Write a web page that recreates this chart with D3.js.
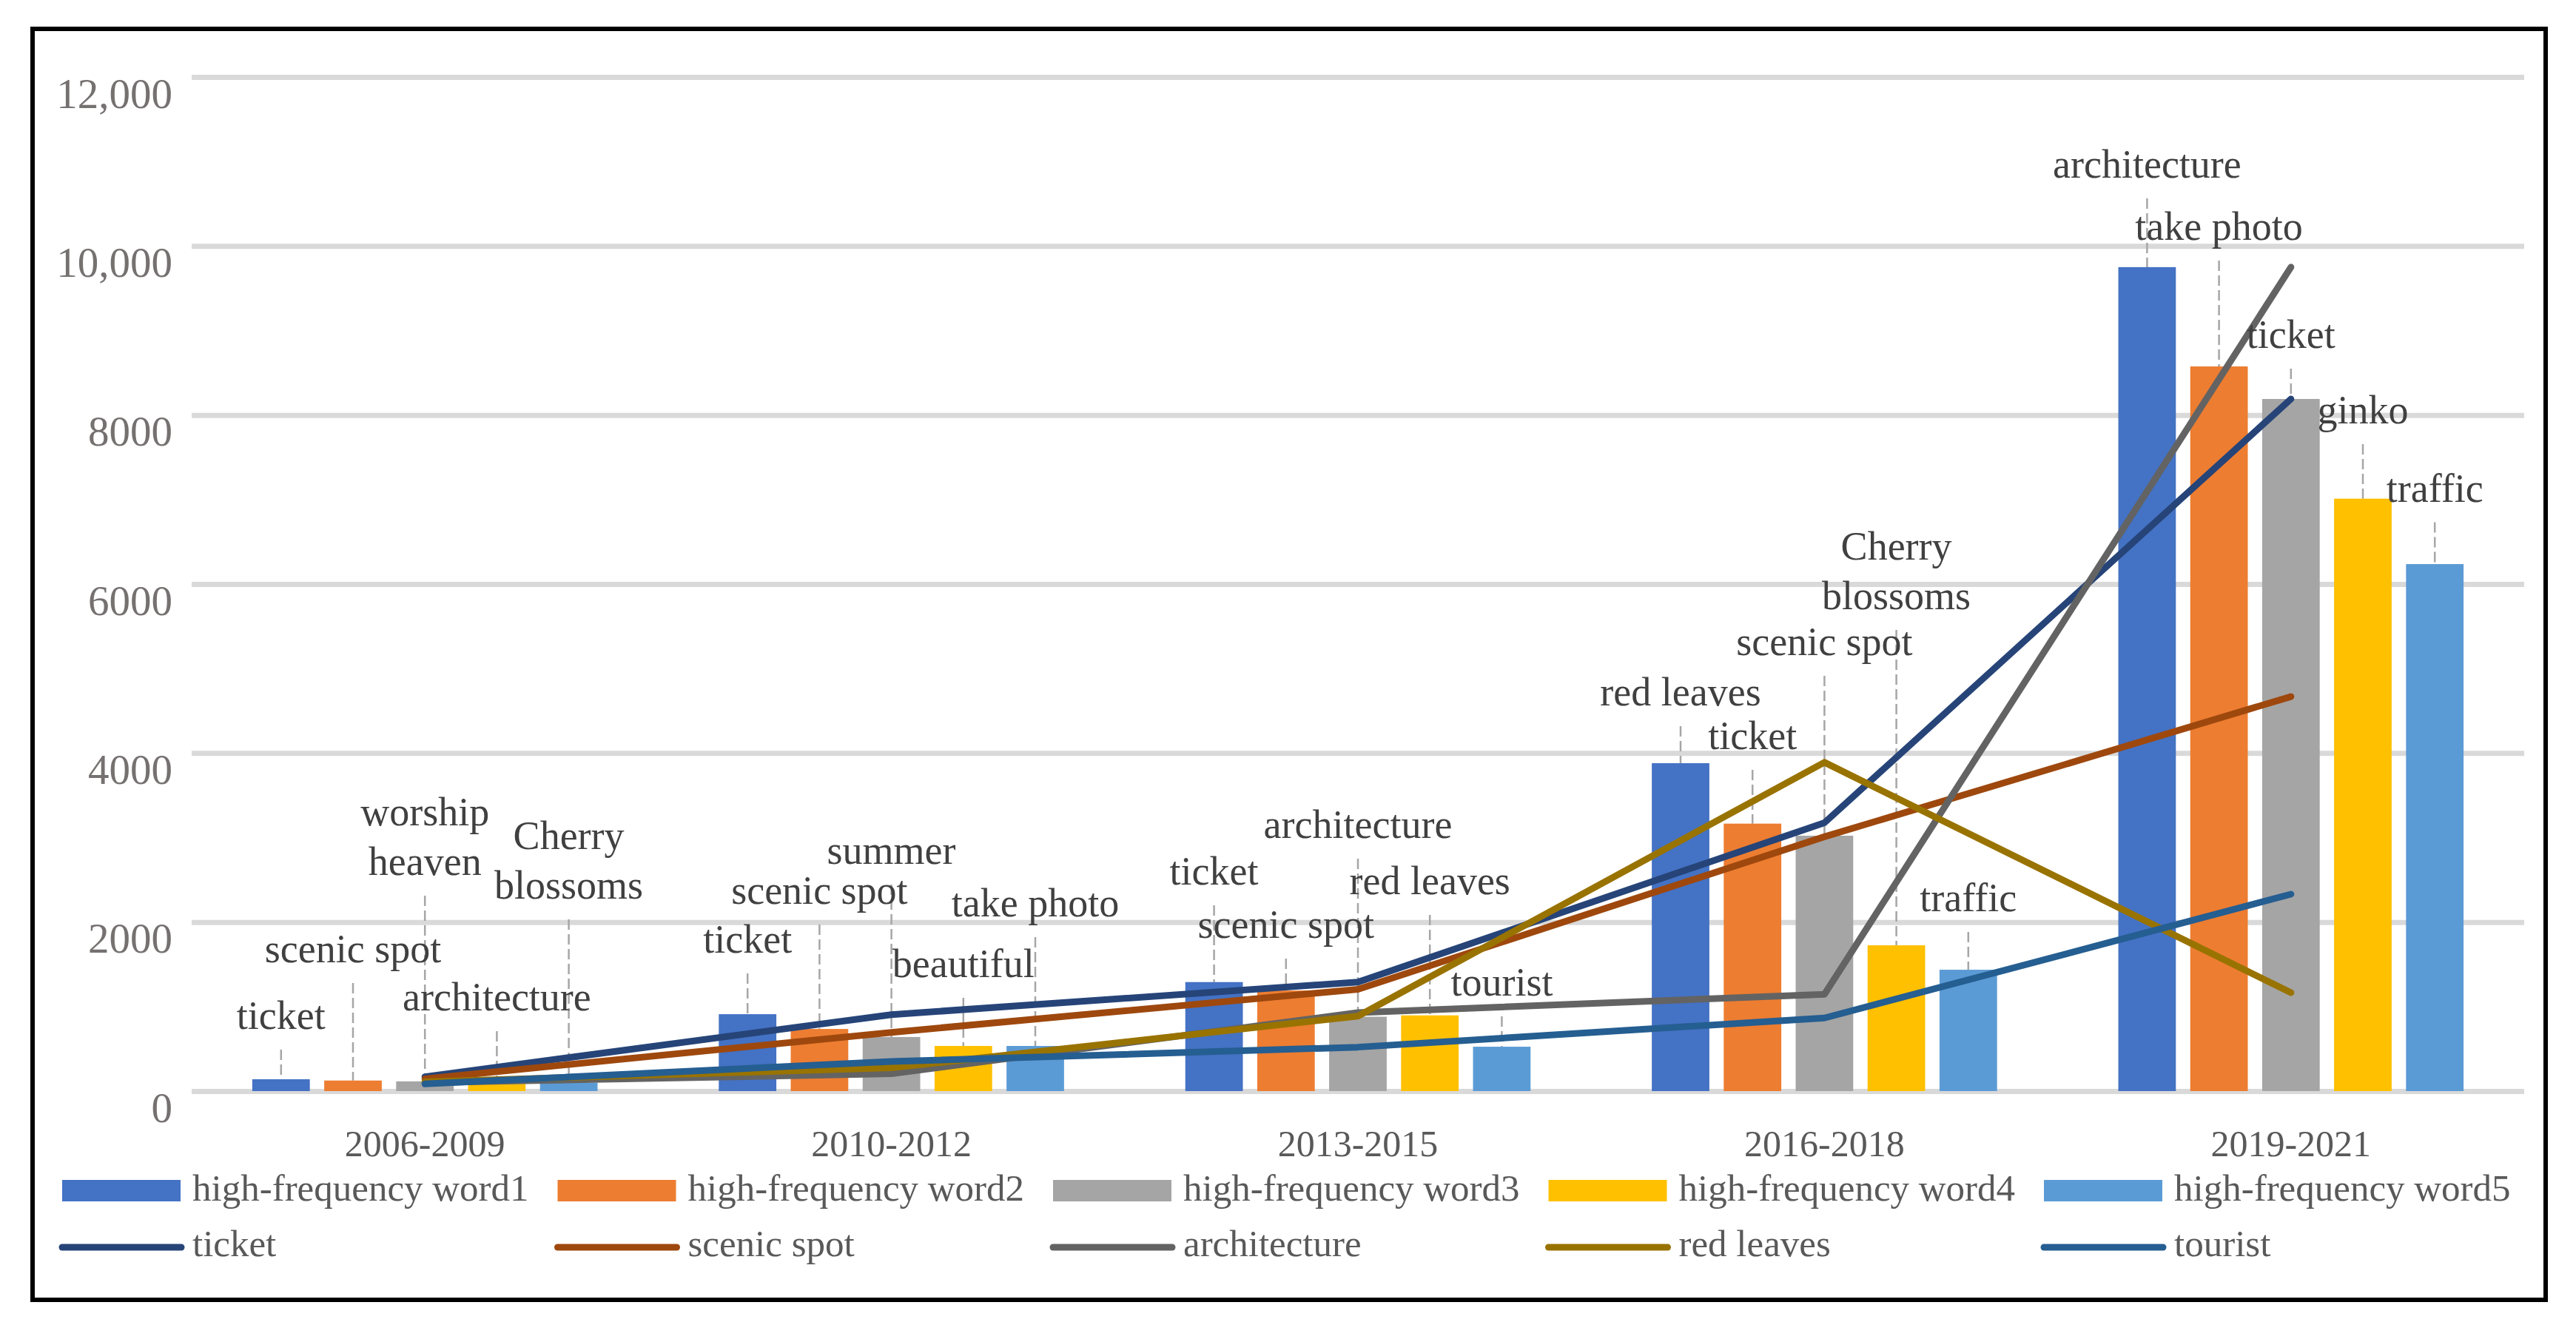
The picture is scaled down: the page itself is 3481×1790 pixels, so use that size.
<!DOCTYPE html>
<html>
<head>
<meta charset="utf-8">
<script src="https://cdn.jsdelivr.net/npm/d3@7/dist/d3.min.js"></script>
<style>
body { margin:0; background:#fff; }
svg { display:block; font-family:"Palatino Linotype","Book Antiqua","Liberation Serif",serif; }
</style>
</head>
<body>
<svg id="chart"></svg>
<script>
var periods = ["2006-2009", "2010-2012", "2013-2015", "2016-2018", "2019-2021"];

var barNames = ["high-frequency word1", "high-frequency word2", "high-frequency word3",
                "high-frequency word4", "high-frequency word5"];
var word1 = [140, 910, 1290, 3880, 9750];
var word2 = [125, 735, 1190, 3165, 8575];
var word3 = [115, 640, 880, 3022, 8190];
var word4 = [85, 534, 896, 1725, 7010];
var word5 = [99, 534, 525, 1436, 6236];

// the word that each bar stands for ("|" = line break)
var word1Words = ["ticket", "ticket", "ticket", "red leaves", "architecture"];
var word2Words = ["scenic spot", "scenic spot", "scenic spot", "ticket", "take photo"];
var word3Words = ["worship|heaven", "summer", "architecture", "scenic spot", "ticket"];
var word4Words = ["architecture", "beautiful", "red leaves", "Cherry|blossoms", "ginko"];
var word5Words = ["Cherry|blossoms", "take photo", "tourist", "traffic", "traffic"];

var lineNames = ["ticket", "scenic spot", "architecture", "red leaves", "tourist"];
var ticket = [170, 905, 1290, 3175, 8190];
var scenicSpot = [145, 695, 1205, 3010, 4668];
var architecture = [100, 205, 928, 1145, 9750];
var redLeaves = [110, 275, 887, 3890, 1165];
var tourist = [85, 350, 520, 865, 2330];

var yTicks = [0, 2000, 4000, 6000, 8000, 10000, 12000];
var yTickLabels = ["0", "2000", "4000", "6000", "8000", "10,000", "12,000"];

// where the data labels were dragged to (value at the baseline of the last line)
var word1LabelAt = [736, 1638, 2444, 4563, 10808];
var word2LabelAt = [1524, 2216, 1813, 4047, 10073];
var word3LabelAt = [2558, 2689, 2996, 5159, 8794];
var word4LabelAt = [955, 1349, 2330, 5702, 7900];
var word5LabelAt = [2277, 2067, 1130, 2128, 6976];

var barColors = ["#4472C4", "#ED7D31", "#A5A5A5", "#FFC000", "#5B9BD5"];
var lineColors = ["#264478", "#9E480E", "#636363", "#997300", "#255E91"];

var barValues = [word1, word2, word3, word4, word5];
var barWords = [word1Words, word2Words, word3Words, word4Words, word5Words];
var barLabelAt = [word1LabelAt, word2LabelAt, word3LabelAt, word4LabelAt, word5LabelAt];
var lineValues = [ticket, scenicSpot, architecture, redLeaves, tourist];

var serif = "'Palatino Linotype','Book Antiqua','Liberation Serif',serif";
var screen = {width:3481, height:1790};
var plot = {left:259, right:3411, top:104, bottom:1474};

var svg = d3.select("#chart")
    .attr("width", screen.width)
    .attr("height", screen.height);

var x0 = d3.scaleBand()
    .domain(periods)
    .range([plot.left, plot.right]);
var x1 = d3.scaleBand()
    .domain(barNames)
    .range([0, 486])
    .paddingInner(0.2)
    .paddingOuter(0.1);
var y = d3.scaleLinear()
    .domain([0, 12000])
    .range([plot.bottom, plot.top]);

var barX = function(i, j)
{
    return x0(periods[j]) + x0.bandwidth()/2 - 243 + x1(barNames[i]);
};
var centerX = function(j)
{
    return x0(periods[j]) + x0.bandwidth()/2;
};

// frame
svg.append("rect")
    .attr("x", 44).attr("y", 39)
    .attr("width", 3396).attr("height", 1717)
    .attr("fill", "none")
    .attr("stroke", "#000")
    .attr("stroke-width", 6);

// gridlines
var grid = svg.append("g")
    .attr("transform", "translate(" + plot.left + ",0)")
    .call(d3.axisLeft(y).tickValues(yTicks).tickSize(-(plot.right - plot.left)).tickFormat(""));
grid.select(".domain").remove();
grid.selectAll("line")
    .attr("stroke", "#d9d9d9")
    .attr("stroke-width", 7);

// y labels
var yAxis = svg.append("g")
    .attr("transform", "translate(" + plot.left + ",0)")
    .call(d3.axisLeft(y).tickValues(yTicks).tickSize(0).tickPadding(26)
        .tickFormat(function(d, i) { return yTickLabels[i]; }));
yAxis.attr("font-family", serif).attr("font-size", 57);
yAxis.select(".domain").remove();
yAxis.selectAll("text")
    .attr("dy", 41)
    .attr("fill", "#767171");

// category labels
var xAxis = svg.append("g")
    .attr("transform", "translate(0," + plot.bottom + ")")
    .call(d3.axisBottom(x0).tickSize(0));
xAxis.attr("font-family", serif).attr("font-size", 50);
xAxis.select(".domain").remove();
xAxis.selectAll("text")
    .attr("y", 88)
    .attr("dy", 0)
    .attr("fill", "#595959");

// flatten bars
var bars = [];
barValues.forEach(function(vals, i)
{
    vals.forEach(function(v, j)
    {
        bars.push({i:i, j:j, value:v, word:barWords[i][j], labelAt:barLabelAt[i][j]});
    });
});

// leader lines
svg.append("g")
    .selectAll("line")
    .data(bars)
    .enter()
    .append("line")
    .attr("x1", function(d) { return barX(d.i, d.j) + x1.bandwidth()/2; })
    .attr("x2", function(d) { return barX(d.i, d.j) + x1.bandwidth()/2; })
    .attr("y1", function(d) { return y(d.labelAt) + 28; })
    .attr("y2", function(d) { return y(d.value); })
    .attr("stroke", "#a6a6a6")
    .attr("stroke-width", 2.5)
    .attr("stroke-dasharray", "14,6");

// bars
svg.append("g")
    .selectAll("rect")
    .data(bars)
    .enter()
    .append("rect")
    .attr("x", function(d) { return barX(d.i, d.j); })
    .attr("y", function(d) { return y(d.value); })
    .attr("width", x1.bandwidth())
    .attr("height", function(d) { return y(0) - y(d.value); })
    .attr("fill", function(d) { return barColors[d.i]; });

// lines
var line = d3.line()
    .x(function(d, j) { return centerX(j); })
    .y(function(d) { return y(d); });

svg.append("g")
    .selectAll("path")
    .data(lineValues)
    .enter()
    .append("path")
    .attr("d", line)
    .attr("fill", "none")
    .attr("stroke", function(d, k) { return lineColors[k]; })
    .attr("stroke-width", 9)
    .attr("stroke-linecap", "round")
    .attr("stroke-linejoin", "round");

// data labels
var labels = svg.append("g")
    .selectAll("text")
    .data(bars)
    .enter()
    .append("text")
    .attr("text-anchor", "middle")
    .attr("fill", "#404040")
    .style("font-size", "54px");

labels.each(function(d)
{
    var parts = d.word.split("|");
    var cx = barX(d.i, d.j) + x1.bandwidth()/2;
    var base = y(d.labelAt);
    d3.select(this)
        .selectAll("tspan")
        .data(parts)
        .enter()
        .append("tspan")
        .attr("x", cx)
        .attr("y", function(p, k) { return base - (parts.length - 1 - k) * 67; })
        .text(function(p) { return p; });
});

// legend
var legend = svg.append("g");
var colStep = 669.5;

legend.selectAll(".barKey")
    .data(barNames)
    .enter()
    .append("rect")
    .attr("x", function(d, i) { return 84 + i*colStep; })
    .attr("y", 1594)
    .attr("width", 160)
    .attr("height", 29)
    .attr("fill", function(d, i) { return barColors[i]; });

legend.selectAll(".barText")
    .data(barNames)
    .enter()
    .append("text")
    .attr("x", function(d, i) { return 260 + i*colStep; })
    .attr("y", 1622)
    .attr("fill", "#595959")
    .style("font-size", "51px")
    .text(function(d) { return d; });

legend.selectAll(".lineKey")
    .data(lineNames)
    .enter()
    .append("line")
    .attr("x1", function(d, i) { return 84 + i*colStep; })
    .attr("x2", function(d, i) { return 245 + i*colStep; })
    .attr("y1", 1685)
    .attr("y2", 1685)
    .attr("stroke", function(d, i) { return lineColors[i]; })
    .attr("stroke-width", 9)
    .attr("stroke-linecap", "round");

legend.selectAll(".lineText")
    .data(lineNames)
    .enter()
    .append("text")
    .attr("x", function(d, i) { return 260 + i*colStep; })
    .attr("y", 1697)
    .attr("fill", "#595959")
    .style("font-size", "51px")
    .text(function(d) { return d; });
</script>
</body>
</html>
